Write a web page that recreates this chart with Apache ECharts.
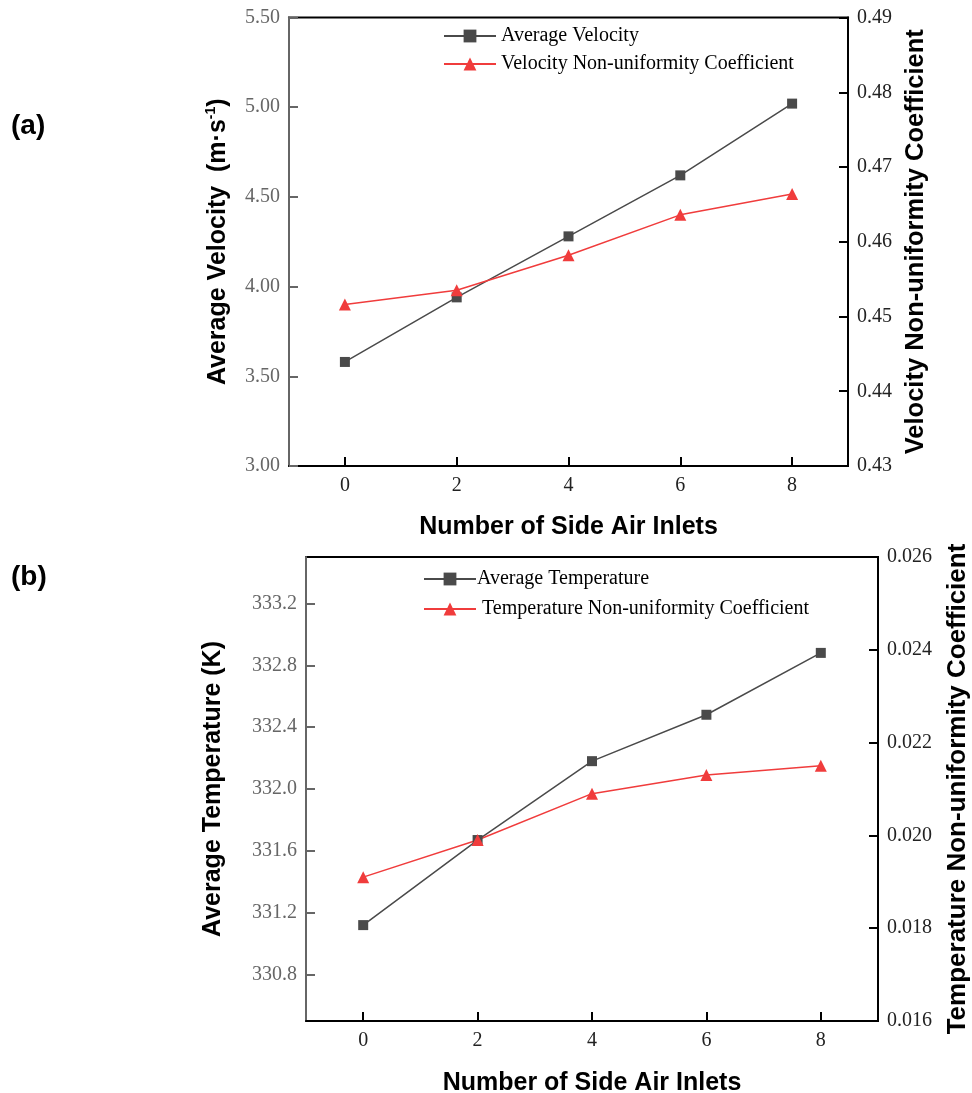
<!DOCTYPE html>
<html>
<head>
<meta charset="utf-8">
<script src="https://cdn.jsdelivr.net/npm/echarts@6/dist/echarts.min.js"></script>
<style>
html,body{margin:0;padding:0;background:#fff;}
#main{width:972px;height:1093px;}
</style>
</head>
<body>
<div id="main"></div>
<script>
// ---- data ----
var inletCounts = [0, 2, 4, 6, 8];
var xTickValues = [0, 2, 4, 6, 8];

var avgVelocity = [3.58, 3.94, 4.28, 4.62, 5.02];
var velocityCoef = [0.4516, 0.4535, 0.4582, 0.4636, 0.4664];

var avgTemperature = [331.12, 331.67, 332.18, 332.48, 332.88];
var temperatureCoef = [0.0191, 0.0199, 0.0209, 0.0213, 0.0215];

var velocityTicks = [3.0, 3.5, 4.0, 4.5, 5.0, 5.5];
var velocityCoefTicks = [0.43, 0.44, 0.45, 0.46, 0.47, 0.48, 0.49];
var temperatureTicks = [330.8, 331.2, 331.6, 332.0, 332.4, 332.8, 333.2];
var temperatureCoefTicks = [0.016, 0.018, 0.020, 0.022, 0.024, 0.026];

// ---- helpers ----
function pairs(xs, ys) { return xs.map(function (x, i) { return [x, ys[i]]; }); }

var SERIF = '"Liberation Serif", "Times New Roman", serif';
var SANS = '"Liberation Sans", Arial, sans-serif';
var GRAY = '#4a4a4a';
var RED = '#f03c3c';
var LEFTC = '#666666';

function xAxisDef(gridIndex, gap) {
  return {
    type: 'value', gridIndex: gridIndex, min: -1, max: 9,
    axisLine: { show: true, onZero: false, lineStyle: { color: '#000', width: 2 } },
    axisTick: { show: true, inside: true, length: 9, customValues: xTickValues, lineStyle: { color: '#000', width: 2 } },
    axisLabel: { customValues: xTickValues, fontFamily: SERIF, fontSize: 20, color: '#222', margin: 10 },
    splitLine: { show: false },
    name: 'Number of Side Air Inlets', nameLocation: 'middle', nameGap: gap,
    nameTextStyle: { fontFamily: SANS, fontWeight: 'bold', fontSize: 25, color: '#000' }
  };
}

function yAxisDef(opt) {
  return {
    type: 'value', gridIndex: opt.grid, position: opt.pos, min: opt.min, max: opt.max,
    axisLine: { show: true, onZero: false, lineStyle: { color: opt.color, width: 2 } },
    axisTick: { show: true, inside: true, length: 9, customValues: opt.ticks, lineStyle: { color: opt.color, width: 2 } },
    axisLabel: { customValues: opt.ticks, fontFamily: SERIF, fontSize: 20, color: opt.labelColor, margin: 9,
      formatter: function (v) { return Number(v).toFixed(opt.dec); } },
    splitLine: { show: false },
    name: opt.name, nameLocation: 'middle', nameGap: opt.gap, nameRotate: 90,
    nameTextStyle: opt.nameStyle
  };
}

function titleStyle(size) { return { fontFamily: SANS, fontWeight: 'bold', fontSize: size, color: '#000' }; }

var option = {
  animation: false,
  backgroundColor: '#fff',
  grid: [
    { left: 289, top: 17.5, width: 559, height: 448.5, outerBoundsMode: 'none', containLabel: false,
      show: true, borderColor: '#000', borderWidth: 2, backgroundColor: 'transparent' },
    { left: 306, top: 557, width: 572, height: 464, outerBoundsMode: 'none', containLabel: false,
      show: true, borderColor: '#000', borderWidth: 2, backgroundColor: 'transparent' }
  ],
  xAxis: [xAxisDef(0, 49), xAxisDef(1, 50)],
  yAxis: [
    yAxisDef({ grid: 0, pos: 'left', min: 3, max: 5.5, ticks: velocityTicks, color: LEFTC, labelColor: LEFTC, dec: 2, gap: 57,
      name: '{b|Average Velocity  (m·s}{sup|-1}{b|)}',
      nameStyle: { rich: {
        b: { fontFamily: SANS, fontWeight: 'bold', fontSize: 25, color: '#000', lineHeight: 28 },
        sup: { fontFamily: SANS, fontWeight: 'bold', fontSize: 14, color: '#000', lineHeight: 28, verticalAlign: 'top', padding: [0, 0, 10, 0] }
      } } }),
    yAxisDef({ grid: 0, pos: 'right', min: 0.43, max: 0.49, ticks: velocityCoefTicks, color: '#000', labelColor: '#222', dec: 2, gap: 55,
      name: 'Velocity Non-uniformity Coefficient', nameStyle: titleStyle(25.5) }),
    yAxisDef({ grid: 1, pos: 'left', min: 330.5, max: 333.5, ticks: temperatureTicks, color: LEFTC, labelColor: LEFTC, dec: 1, gap: 80,
      name: 'Average Temperature (K)', nameStyle: titleStyle(25) }),
    yAxisDef({ grid: 1, pos: 'right', min: 0.016, max: 0.026, ticks: temperatureCoefTicks, color: '#000', labelColor: '#222', dec: 3, gap: 67,
      name: 'Temperature Non-uniformity Coefficient', nameStyle: titleStyle(26) })
  ],
  legend: [
    { orient: 'vertical', left: 438, top: 21, itemWidth: 52, itemHeight: 16, itemGap: 8,
      data: ['Average Velocity', 'Velocity Non-uniformity Coefficient'],
      textStyle: { fontFamily: SERIF, fontSize: 20, color: '#000' } },
    { orient: 'vertical', left: 418, top: 564, itemWidth: 52, itemHeight: 16, itemGap: 10,
      data: ['Average Temperature', 'Temperature Non-uniformity Coefficient'],
      formatter: function (n) { return n === 'Temperature Non-uniformity Coefficient' ? ' ' + n : n; },
      textStyle: { fontFamily: SERIF, fontSize: 20, color: '#000', padding: [0, 0, 0, -4] } }
  ],
  graphic: [
    { type: 'text', left: 11, top: 112, style: { text: '(a)', font: 'bold 28px ' + SANS, fill: '#000' } },
    { type: 'text', left: 11, top: 563, style: { text: '(b)', font: 'bold 28px ' + SANS, fill: '#000' } }
  ],
  series: [
    { name: 'Average Velocity', type: 'line', xAxisIndex: 0, yAxisIndex: 0, data: pairs(inletCounts, avgVelocity),
      symbol: 'rect', symbolSize: 10, lineStyle: { color: GRAY, width: 1.5 }, itemStyle: { color: GRAY } },
    { name: 'Velocity Non-uniformity Coefficient', type: 'line', xAxisIndex: 0, yAxisIndex: 1, data: pairs(inletCounts, velocityCoef),
      symbol: 'triangle', symbolSize: 12, lineStyle: { color: RED, width: 1.5 }, itemStyle: { color: RED } },
    { name: 'Average Temperature', type: 'line', xAxisIndex: 1, yAxisIndex: 2, data: pairs(inletCounts, avgTemperature),
      symbol: 'rect', symbolSize: 10, lineStyle: { color: GRAY, width: 1.5 }, itemStyle: { color: GRAY } },
    { name: 'Temperature Non-uniformity Coefficient', type: 'line', xAxisIndex: 1, yAxisIndex: 3, data: pairs(inletCounts, temperatureCoef),
      symbol: 'triangle', symbolSize: 12, lineStyle: { color: RED, width: 1.5 }, itemStyle: { color: RED } }
  ]
};

var chart = echarts.init(document.getElementById('main'), null, { renderer: 'canvas' });
chart.setOption(option);
</script>
</body>
</html>
